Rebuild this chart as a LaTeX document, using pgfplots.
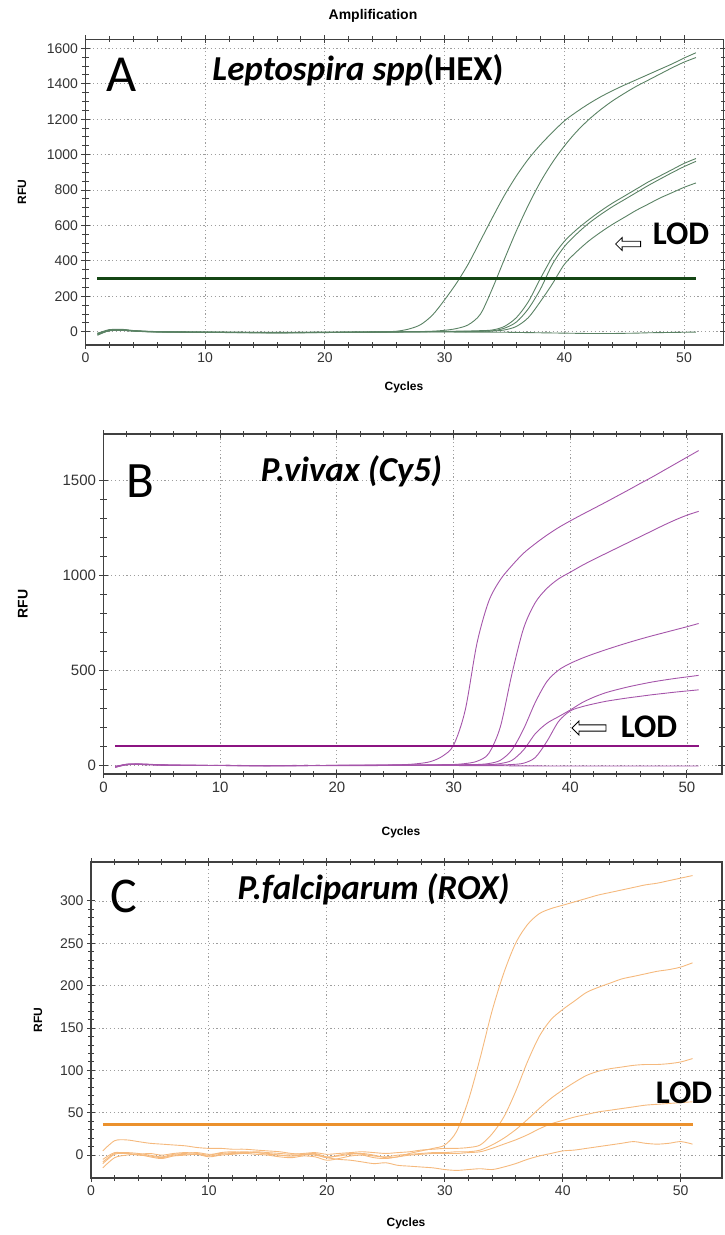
\documentclass[border=0pt]{standalone}
\usepackage{pgfplots}
\pgfplotsset{compat=1.18}
\usepackage{pgfplotstable}
\usetikzlibrary{shapes.arrows}
\usepackage{fontspec}
\setmainfont{Liberation Sans}
\newfontfamily\carlito{Carlito}

\definecolor{gcurve}{RGB}{90,130,100}
\definecolor{gthr}{RGB}{20,70,20}
\definecolor{pcurve}{RGB}{165,85,170}
\definecolor{pthr}{RGB}{140,20,130}
\definecolor{ocurve}{RGB}{245,185,125}
\definecolor{othr}{RGB}{235,145,45}

\pgfplotstableread{
x a1 a2 a3 a4 a5 a6
1 -20 -15 -10 -18 -12 -8
2 8 10 12 6 9 5
3 12 14 10 11 9 8
4 6 5 7 4 5 3
5 2 1 3 0 2 1
6 0 -1 1 -2 0 0
7 -1 -2 0 -2 -1 -1
8 -2 -2 -1 -3 -2 -1
9 -2 -3 -2 -3 -2 -2
10 -3 -3 -2 -4 -3 -2
11 -3 -4 -3 -4 -3 -2
12 -4 -4 -3 -5 -4 -3
13 -4 -5 -4 -5 -4 -3
14 -5 -5 -4 -6 -5 -4
15 -5 -6 -5 -6 -5 -4
16 -6 -6 -5 -7 -6 -4
17 -5 -6 -5 -6 -5 -4
18 -5 -5 -4 -6 -5 -4
19 -4 -5 -4 -5 -4 -3
20 -4 -4 -3 -5 -4 -3
21 -3 -4 -3 -4 -3 -3
22 -3 -3 -2 -4 -3 -2
23 -2 -3 -2 -3 -2 -2
24 -1 -2 -1 -3 -2 -2
25 0 -2 -1 -2 -1 -1
26 3 -1 0 -2 -1 -1
27 15 0 0 -1 0 -1
28 40 1 1 -1 0 -1
29 95 3 1 0 0 -1
30 180 8 2 0 1 -1
31 275 18 3 1 1 -2
32 385 40 4 1 2 -2
33 515 100 6 2 3 -2
34 645 245 10 5 4 -3
35 770 410 30 20 10 -3
36 880 570 80 55 30 -4
37 975 715 170 130 80 -5
38 1055 845 300 240 170 -6
39 1125 955 420 380 270 -7
40 1190 1048 510 480 380 -8
41 1240 1128 575 550 450 -9
42 1285 1195 630 610 510 -10
43 1325 1252 680 660 560 -10
44 1360 1302 725 705 605 -10
45 1392 1345 765 745 645 -9
46 1422 1385 805 785 685 -8
47 1452 1420 845 825 720 -6
48 1482 1455 880 862 755 -5
49 1512 1490 915 898 785 -4
50 1545 1522 950 932 815 -3
51 1575 1548 978 962 840 -2
}\dataA

\pgfplotstableread{
x b1 b2 b3 b4 b5 b6
1 -12 -10 -8 -12 -9 -6
2 3 4 5 2 3 2
3 5 6 4 5 3 3
4 3 4 2 3 2 2
5 0 1 0 1 0 0
6 -1 0 -1 0 -1 -1
7 -1 -1 -1 -1 -1 -1
8 -2 -1 -2 -1 -2 -1
9 -2 -2 -2 -2 -2 -2
10 -2 -2 -1 -2 -2 -2
11 -3 -2 -2 -3 -2 -2
12 -3 -3 -2 -3 -3 -2
13 -3 -3 -3 -3 -3 -3
14 -3 -3 -3 -4 -3 -3
15 -3 -3 -3 -3 -3 -3
16 -3 -3 -2 -3 -3 -3
17 -2 -3 -2 -3 -2 -3
18 -2 -2 -2 -2 -2 -3
19 -2 -2 -2 -2 -2 -3
20 -1 -2 -1 -2 -2 -3
21 -1 -1 -1 -2 -1 -3
22 -1 -1 -1 -1 -1 -3
23 0 -1 -1 -1 -1 -3
24 0 -1 0 -1 -1 -2
25 1 0 0 -1 0 -2
26 3 0 0 0 0 -1
27 8 0 0 0 0 -1
28 18 1 0 0 0 -2
29 45 2 1 0 0 -2
30 105 3 1 0 0 -2
31 290 8 2 1 0 -3
32 640 20 3 1 1 -3
33 860 60 8 2 1 -3
34 975 200 25 8 1 -3
35 1050 480 80 25 3 -4
36 1115 720 190 80 10 -4
37 1165 855 330 165 40 -4
38 1210 930 440 220 125 -5
39 1250 980 500 255 230 -5
40 1285 1015 535 290 285 -5
41 1318 1050 562 328 307 -5
42 1350 1082 585 357 322 -5
43 1382 1112 606 380 335 -5
44 1415 1142 626 397 345 -5
45 1448 1172 645 412 354 -5
46 1482 1202 663 425 362 -5
47 1515 1232 680 437 370 -5
48 1550 1262 696 447 377 -5
49 1585 1290 712 456 384 -5
50 1620 1315 728 464 390 -5
51 1655 1335 745 472 396 -5
}\dataB

\pgfplotstableread{
x c1 c2 c3 c4 c5
1 -8 -5 -10 -15 5
2 2 3 1 -3 17
3 3 2 2 0 18
4 2 1 0 1 16
5 0 2 -1 -2 14
6 -2 0 -3 -4 13
7 1 2 0 -1 12
8 2 3 1 0 11
9 3 2 1 1 9
10 1 0 -1 -2 8
11 2 3 1 0 8
12 3 4 2 1 7
13 4 3 2 2 7
14 3 4 3 1 6
15 2 3 1 0 5
16 0 2 0 -2 4
17 -1 1 -1 -3 2
18 1 2 0 -1 1
19 2 3 1 -2 0
20 -2 1 -3 -6 -3
21 -1 2 0 -4 -5
22 1 3 2 -1 -6
23 2 4 1 0 -8
24 0 3 -1 -3 -10
25 -3 2 -2 -4 -9
26 -2 3 0 -2 -12
27 2 4 1 0 -13
28 5 6 2 1 -14
29 8 7 3 2 -15
30 12 8 3 2 -17
31 28 8 4 2 -18
32 65 9 4 3 -17
33 115 12 6 4 -16
34 170 25 12 8 -17
35 215 45 20 13 -14
36 250 75 30 18 -10
37 272 110 42 24 -5
38 285 140 55 31 -1
39 291 160 67 37 2
40 295 172 77 41 5
41 299 182 86 45 6
42 303 192 94 48 8
43 307 198 99 51 10
44 310 203 102 53 12
45 313 208 104 55 14
46 316 211 106 57 16
47 319 214 107 59 14
48 321 217 107 60 13
49 324 219 108 61 14
50 327 222 110 62 16
51 330 227 114 63 13
}\dataC

\pgfplotsset{
  qpcr/.style={
    scale only axis, anchor=north west,
    xmin=0, xtick={0,10,...,50}, minor x tick num=4,
    tick align=center, major tick length=8pt, minor tick length=6pt,
    grid=major, major grid style={dash pattern=on 1.2pt off 2.6pt, black!38, line width=0.9pt},
    axis line style={black!75, line width=1.3pt},
    every tick/.style={black!75, line width=1pt},
    ticklabel style={font=\fontsize{14}{14}\selectfont, text=black!80},
    /pgf/number format/assume math mode=true,
    /pgf/number format/1000 sep={},
    every axis plot/.append style={line width=0.9pt, smooth},
  }
}

\begin{document}
\begin{tikzpicture}
\useasboundingbox (0pt,0pt) rectangle (725pt,-1235pt);

% ---------- Panel A ----------
\begin{axis}[qpcr, at={(85.5pt,-39.3pt)}, width=638pt, height=305.7pt,
  xmax=53.3, ymin=-75, ymax=1651, ytick={0,200,...,1600}, minor y tick num=3]
\addplot[gcurve] table[x=x,y=a1] {\dataA};
\addplot[gcurve] table[x=x,y=a2] {\dataA};
\addplot[gcurve] table[x=x,y=a3] {\dataA};
\addplot[gcurve] table[x=x,y=a4] {\dataA};
\addplot[gcurve] table[x=x,y=a5] {\dataA};
\addplot[gcurve] table[x=x,y=a6] {\dataA};
\addplot[gthr, line width=2.2pt] coordinates {(1,300) (51,300)};
\end{axis}

% ---------- Panel B ----------
\begin{axis}[qpcr, at={(103.5pt,-434pt)}, width=618.5pt, height=340pt,
  xmax=53.0, ymin=-47, ymax=1742, ytick={0,500,1000,1500}, minor y tick num=4,
  ticklabel style={font=\fontsize{15}{15}\selectfont}]
\addplot[pcurve] table[x=x,y=b1] {\dataB};
\addplot[pcurve] table[x=x,y=b2] {\dataB};
\addplot[pcurve] table[x=x,y=b3] {\dataB};
\addplot[pcurve] table[x=x,y=b4] {\dataB};
\addplot[pcurve] table[x=x,y=b5] {\dataB};
\addplot[pcurve] table[x=x,y=b6] {\dataB};
\addplot[pthr, line width=2.4pt] coordinates {(1,100) (51,100)};
\end{axis}

% ---------- Panel C ----------
\begin{axis}[qpcr, at={(91pt,-862pt)}, width=631pt, height=316pt,
  xmax=53.5, ymin=-27, ymax=346, ytick={0,50,...,300}, minor y tick num=4]
\addplot[ocurve] table[x=x,y=c1] {\dataC};
\addplot[ocurve] table[x=x,y=c2] {\dataC};
\addplot[ocurve] table[x=x,y=c3] {\dataC};
\addplot[ocurve] table[x=x,y=c4] {\dataC};
\addplot[ocurve] table[x=x,y=c5] {\dataC};
\addplot[othr, line width=3pt] coordinates {(1,36) (51,36)};
\end{axis}

% ---------- labels ----------
\node[font=\bfseries\fontsize{14}{14}\selectfont] at (373pt,-16pt) {Amplification};
\node[font=\bfseries\fontsize{12}{12}\selectfont] at (404pt,-387pt) {Cycles};
\node[font=\bfseries\fontsize{12}{12}\selectfont] at (401pt,-832pt) {Cycles};
\node[font=\bfseries\fontsize{12}{12}\selectfont] at (406pt,-1223pt) {Cycles};
\node[font=\bfseries\fontsize{12}{12}\selectfont, rotate=90] at (22pt,-192pt) {RFU};
\node[font=\bfseries\fontsize{14}{14}\selectfont, rotate=90] at (23pt,-604pt) {RFU};
\node[font=\bfseries\fontsize{12}{12}\selectfont, rotate=90] at (38pt,-1020pt) {RFU};

% panel letters and titles
\node[font=\carlito\fontsize{52}{52}\selectfont] at (122pt,-75pt) {A};
\node[font=\carlito\fontsize{51}{51}\selectfont] at (140.5pt,-481.5pt) {B};
\node[font=\carlito\fontsize{50}{50}\selectfont] at (123.5pt,-896pt) {C};
\node[font=\carlito\bfseries\fontsize{35}{35}\selectfont, anchor=base] at (358pt,-80pt) {\textit{Leptospira spp}(HEX)};
\node[font=\carlito\bfseries\itshape\fontsize{35}{35}\selectfont, anchor=base] at (351.5pt,-481pt) {P.vivax (Cy5)};
\node[font=\carlito\bfseries\itshape\fontsize{35}{35}\selectfont, anchor=base] at (373.5pt,-899pt) {P.falciparum (ROX)};

% LOD marks
\node[font=\carlito\bfseries\fontsize{33}{33}\selectfont, anchor=base] at (681pt,-244pt) {LOD};
\node[font=\carlito\bfseries\fontsize{33}{33}\selectfont, anchor=base] at (649pt,-737pt) {LOD};
\node[font=\carlito\bfseries\fontsize{33}{33}\selectfont, anchor=base] at (684pt,-1103pt) {LOD};
\node[single arrow, draw=black, fill=white, line width=0.8pt, shape border rotate=180,
  minimum height=25pt, minimum width=13pt, single arrow head extend=2.5pt, inner sep=1.5pt]
  at (629.5pt,-244pt) {};
\node[single arrow, draw=black, fill=white, line width=0.8pt, shape border rotate=180,
  minimum height=34pt, minimum width=14pt, single arrow head extend=3pt, inner sep=2pt]
  at (590.5pt,-728pt) {};
\end{tikzpicture}
\end{document}
